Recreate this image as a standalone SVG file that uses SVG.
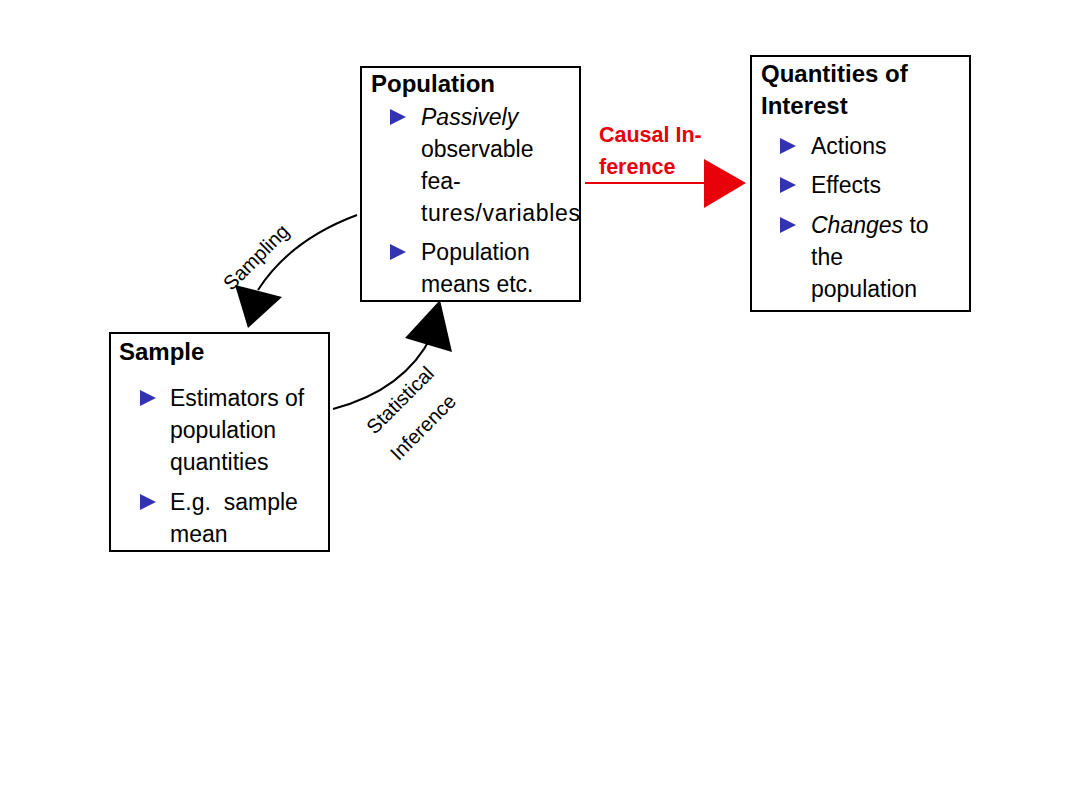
<svg xmlns="http://www.w3.org/2000/svg" width="1080" height="810" viewBox="0 0 1080 810">
<style>
.box{fill:#fff;stroke:#000;stroke-width:2}
text{font-family:"Liberation Sans",Arial,sans-serif;fill:#000}
.t{font-size:24px;font-weight:bold}
.b{font-size:23px}
.i{font-style:italic}
.lab{font-size:20px}
.red{fill:#e8000b;font-weight:bold;font-size:21.5px}
.bul{fill:#3333b2}
.con{fill:none;stroke:#000;stroke-width:2}
</style>
<defs>
<path id="bullet" d="M0,-8 L16,0 L0,8 Z"/>
</defs>
<rect width="1080" height="810" fill="#fff"/>
<g id="population">
<rect class="box" x="361" y="67" width="219" height="234"/>
<text class="t" x="371" y="92">Population</text>
<use href="#bullet" class="bul" x="390" y="117"/>
<text class="b i" x="421" y="125">Passively</text>
<text class="b" x="421" y="157">observable</text>
<text class="b" x="421" y="189">fea-</text>
<text class="b" x="421" y="221" textLength="159" lengthAdjust="spacing">tures/variables</text>
<use href="#bullet" class="bul" x="390" y="252"/>
<text class="b" x="421" y="260">Population</text>
<text class="b" x="421" y="292">means etc.</text>
</g>
<g id="quantities">
<rect class="box" x="751" y="56" width="219" height="255"/>
<text class="t" x="761" y="82">Quantities of</text>
<text class="t" x="761" y="114">Interest</text>
<use href="#bullet" class="bul" x="780" y="146"/>
<text class="b" x="811" y="154">Actions</text>
<use href="#bullet" class="bul" x="780" y="185"/>
<text class="b" x="811" y="193">Effects</text>
<use href="#bullet" class="bul" x="780" y="225"/>
<text class="b" x="811" y="233"><tspan class="i">Changes</tspan> to</text>
<text class="b" x="811" y="265">the</text>
<text class="b" x="811" y="297">population</text>
</g>
<g id="sample">
<rect class="box" x="110" y="333" width="219" height="218"/>
<text class="t" x="119" y="360">Sample</text>
<use href="#bullet" class="bul" x="140" y="398"/>
<text class="b" x="170" y="406">Estimators of</text>
<text class="b" x="170" y="438">population</text>
<text class="b" x="170" y="470">quantities</text>
<use href="#bullet" class="bul" x="140" y="502"/>
<text class="b" x="170" y="510">E.g.&#160; sample</text>
<text class="b" x="170" y="542">mean</text>
</g>
<g id="connectors">
<path class="con" d="M357,215 Q290,240 258,290"/>
<polygon points="235,285 282,297 248,328" fill="#000"/>
<path class="con" d="M333,409 Q405,390 432,335"/>
<polygon points="405,338 440,300 452,352" fill="#000"/>
<line x1="585" y1="183" x2="710" y2="183" stroke="#e8000b" stroke-width="2"/>
<polygon points="704,159 746,183 704,208" fill="#e8000b"/>
<text class="lab" transform="translate(261,262) rotate(-45)" text-anchor="middle">Sampling</text>
<text class="lab" transform="translate(405,405) rotate(-45)" text-anchor="middle">Statistical</text>
<text class="lab" transform="translate(428,432) rotate(-45)" text-anchor="middle">Inference</text>
<text class="red" x="599" y="142">Causal In-</text>
<text class="red" x="599" y="174">ference</text>
</g>
</svg>
